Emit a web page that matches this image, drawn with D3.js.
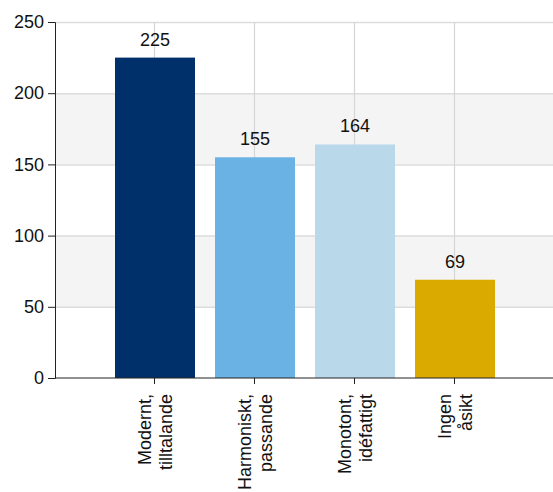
<!DOCTYPE html>
<html>
<head>
<meta charset="utf-8">
<script src="https://cdn.jsdelivr.net/npm/d3@7"></script>
<style>
body { margin: 0; background: #fff; }
text { font-family: "Liberation Sans", Arial, sans-serif; }
</style>
</head>
<body>
<svg id="chart" width="553" height="492"></svg>
<script>
var categories = [["Modernt,", "tilltalande"], ["Harmoniskt,", "passande"], ["Monotont,", "idéfattigt"], ["Ingen", "åsikt"]];
var values = [225, 155, 164, 69];
var colors = ["#00306a", "#6bb2e4", "#b9d8ea", "#dbaa00"];
var yTicks = [0, 50, 100, 150, 200, 250];

var svg = d3.select("#chart");
var plotL = 55, plotR = 553, plotT = 22, plotB = 378;

var keys = categories.map(function(c){ return c.join(" "); });
var x = d3.scaleBand().domain(keys).range([105, 505]).paddingInner(0.2).paddingOuter(0.1);
var y = d3.scaleLinear().domain([0, 250]).range([plotB, plotT]);

// alternating bands
var bands = [[50, 100], [150, 200]];
svg.selectAll("rect.band").data(bands).enter().append("rect")
	.attr("class", "band")
	.attr("x", plotL).attr("width", plotR - plotL)
	.attr("y", function(d){ return y(d[1]); })
	.attr("height", function(d){ return y(d[0]) - y(d[1]); })
	.style("fill", "#f4f4f4");

// grid
svg.selectAll("line.hgrid").data(yTicks.slice(1)).enter().append("line")
	.attr("x1", plotL).attr("x2", plotR)
	.attr("y1", function(d){ return y(d) + 0.5; })
	.attr("y2", function(d){ return y(d) + 0.5; })
	.style("stroke", "#dcdcdc").style("stroke-width", 1.5);
svg.selectAll("line.vgrid").data(keys).enter().append("line")
	.attr("x1", function(d){ return Math.round(x(d) + x.bandwidth()/2) - 0.5; })
	.attr("x2", function(d){ return Math.round(x(d) + x.bandwidth()/2) - 0.5; })
	.attr("y1", plotT).attr("y2", plotB)
	.style("stroke", "#d6d6d6").style("stroke-width", 1.2);

// bars
svg.selectAll("rect.bar").data(values).enter().append("rect")
	.attr("x", function(d, i){ return x(keys[i]); })
	.attr("width", x.bandwidth())
	.attr("y", function(d){ return y(d); })
	.attr("height", function(d){ return y(0) - y(d); })
	.style("fill", function(d, i){ return colors[i]; });

svg.selectAll("text.val").data(values).enter().append("text")
	.attr("x", function(d, i){ return x(keys[i]) + x.bandwidth()/2; })
	.attr("y", function(d){ return y(d) - 12; })
	.attr("text-anchor", "middle")
	.style("font-size", "18px").style("fill", "#111")
	.text(function(d){ return d; });

// y axis
var yAxis = svg.append("g").attr("transform", "translate(" + plotL + ",0)")
	.call(d3.axisLeft(y).tickValues(yTicks).tickSize(7).tickPadding(4));
yAxis.attr("font-family", null).attr("font-size", null);
yAxis.selectAll("text").style("font-size", "18px").style("fill", "#111");
yAxis.selectAll("line, path").style("stroke", "#222");

// x axis
var xAxis = svg.append("g").attr("transform", "translate(0," + plotB + ")");
xAxis.append("line").attr("x1", plotL).attr("x2", plotR).style("stroke", "#222");
xAxis.selectAll("line.tick").data(keys).enter().append("line")
	.attr("x1", function(d){ return Math.round(x(d) + x.bandwidth()/2) - 0.5; })
	.attr("x2", function(d){ return Math.round(x(d) + x.bandwidth()/2) - 0.5; })
	.attr("y1", 0).attr("y2", 6).style("stroke", "#222");

var lab = svg.selectAll("g.lab").data(categories).enter().append("g")
	.attr("transform", function(d, i){
		var cx = x(keys[i]) + x.bandwidth()/2;
		return "translate(" + cx + "," + (plotB + 16) + ") rotate(-90)";
	});
lab.selectAll("text").data(function(d){ return d; }).enter().append("text")
	.attr("x", 0)
	.attr("y", function(d, j){ return j === 0 ? -4 : 17; })
	.attr("text-anchor", "end")
	.style("font-size", "18px").style("fill", "#111")
	.text(function(d){ return d; });
</script>
</body>
</html>
